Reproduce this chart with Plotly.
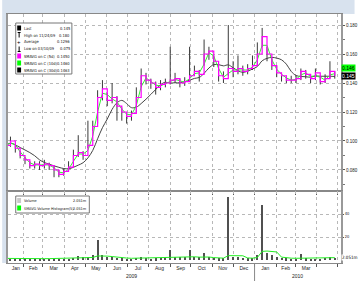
import pandas as pd
import plotly.graph_objects as go
from plotly.subplots import make_subplots

# ---------------- data ----------------
week_start = "2009-01-06"
close = [
    0.097, 0.100, 0.095, 0.090, 0.087, 0.083, 0.084, 0.083, 0.084, 0.083,
    0.080, 0.077, 0.079, 0.082, 0.090, 0.092, 0.090, 0.097, 0.110, 0.130,
    0.136, 0.128, 0.130, 0.124, 0.120, 0.117, 0.119, 0.130, 0.145, 0.142,
    0.140, 0.137, 0.139, 0.140, 0.142, 0.143, 0.140, 0.141, 0.145, 0.148,
    0.146, 0.160, 0.162, 0.155, 0.145, 0.143, 0.150, 0.148, 0.150, 0.148,
    0.150, 0.152, 0.160, 0.172, 0.160, 0.152, 0.147, 0.145, 0.142, 0.142,
    0.143, 0.148, 0.146, 0.143, 0.147, 0.141, 0.143, 0.148, 0.145]
high = [
    0.099, 0.103, 0.098, 0.093, 0.089, 0.086, 0.086, 0.086, 0.087, 0.085,
    0.083, 0.080, 0.081, 0.086, 0.094, 0.104, 0.093, 0.114, 0.114, 0.135,
    0.142, 0.133, 0.140, 0.131, 0.123, 0.120, 0.121, 0.137, 0.150, 0.147,
    0.143, 0.141, 0.142, 0.143, 0.165, 0.147, 0.143, 0.144, 0.165, 0.152,
    0.149, 0.170, 0.165, 0.159, 0.150, 0.148, 0.180, 0.155, 0.159, 0.152,
    0.153, 0.159, 0.168, 0.178, 0.165, 0.157, 0.152, 0.147, 0.145, 0.145,
    0.145, 0.150, 0.149, 0.146, 0.150, 0.145, 0.146, 0.155, 0.148]
low = [
    0.094, 0.096, 0.092, 0.088, 0.084, 0.081, 0.081, 0.080, 0.081, 0.080,
    0.075, 0.075, 0.076, 0.080, 0.086, 0.089, 0.087, 0.095, 0.107, 0.112,
    0.128, 0.124, 0.126, 0.114, 0.114, 0.112, 0.114, 0.120, 0.137, 0.139,
    0.136, 0.132, 0.135, 0.137, 0.139, 0.140, 0.137, 0.138, 0.142, 0.145,
    0.141, 0.152, 0.156, 0.151, 0.141, 0.140, 0.145, 0.144, 0.146, 0.145,
    0.146, 0.149, 0.152, 0.165, 0.155, 0.149, 0.144, 0.141, 0.140, 0.140,
    0.140, 0.142, 0.143, 0.140, 0.142, 0.139, 0.140, 0.143, 0.143]
volume = [
    1.0, 0.8, 0.6, 0.7, 0.5, 0.6, 0.8, 0.5, 0.7, 0.6, 0.9, 0.8, 1.0, 1.2,
    2.0, 3.5, 2.5, 3.0, 4.0, 17.0, 4.0, 3.0, 2.5, 2.0, 1.5, 1.2, 1.0,
    2.0, 2.5, 1.5, 1.2, 1.5, 2.0, 2.5,
    9.0, 3.0, 2.5, 3.0, 9.0, 3.0, 2.5,
    6.0, 3.0, 2.0, 1.5, 1.5,
    55.0, 3.0, 2.5, 2.0, 1.5, 1.5,
    4.0, 48.0, 6.0, 4.0, 3.0, 2.0,
    1.5, 1.0, 1.2, 5.0, 1.5, 1.0, 1.2, 1.0, 2.0, 3.0, 2.051]
volume_ma = [
    1.4, 1.3, 1.3, 1.2, 1.2, 1.2, 1.2, 1.2, 1.2, 1.2, 1.3, 1.3, 1.3, 1.4,
    1.6, 1.8, 2.0, 2.0, 2.2,
    3.5, 3.6, 3.4, 3.0, 2.4, 2.0, 1.7, 1.5,
    1.6, 1.8, 1.7, 1.6, 1.7, 1.8, 2.0,
    2.6, 2.6, 2.4, 2.5, 2.8, 2.8, 2.5,
    2.8, 2.6, 2.1, 1.8, 1.6,
    3.8, 3.9, 3.8, 3.7, 1.8, 1.6,
    2.2, 7.5, 7.8, 7.6, 7.0, 2.5,
    1.8, 1.6, 1.5, 1.6, 1.6, 1.4, 1.4, 1.4, 1.6, 1.9, 2.051]

month_labels = ["Jan", "Feb", "Mar", "Apr", "May", "Jun", "Jul", "Aug",
                "Sep", "Oct", "Nov", "Dec", "Jan", "Feb", "Mar"]
year_labels = ["2009", "2010"]
price_ticks = [0.08, 0.10, 0.12, 0.14, 0.16, 0.18]
volume_ticks = [20, 40]

legend_names = ["Last", "High on 11/24/09", "Average", "Low on 03/10/09",
                "SMAVG on C (5d)", "SMAVG on C (10d)", "SMAVG on C (30d)"]
legend_values = ["0.145", "0.180", "0.1296", "0.075", "0.1450", "0.1460", "0.1463"]
vol_legend_names = ["Volume", "SMAVG Volume Histogram(5)"]
vol_legend_values = ["2.051m", "2.051m"]

# ---------------- derived ----------------
dates = pd.date_range(week_start, periods=len(close), freq="7D")
s = pd.Series(close)
ma_mid = s.rolling(2, min_periods=1).mean()
ma_slow = s.rolling(6, min_periods=1).mean()

hl_x, hl_y = [], []
for d, lo, hi in zip(dates, low, high):
    hl_x += [d, d, None]
    hl_y += [lo, hi, None]

x0 = pd.Timestamp("2009-01-09 10:00")
x1 = pd.Timestamp("2010-05-06")
mstarts = pd.date_range("2009-01-01", periods=len(month_labels) + 1, freq="MS")
label_pos = []
for i in range(len(month_labels)):
    a = max(mstarts[i], x0)
    b = min(mstarts[i + 1], x1)
    label_pos.append(a + (b - a) / 2)
ybound = pd.Timestamp("2010-01-01")
year_pos = [x0 + (ybound - x0) / 2, ybound + (x1 - ybound) / 2]

# ---------------- figure ----------------
L, R, T, B = 6, 350, 14, 263
W, H = R - L, B - T
FW, FH = 364, 281


def px(v):
    return (v - L) / W


def py(v):
    return (B - v) / H


FONT = "Liberation Sans, Arial, sans-serif"
NARROW = "DejaVu Sans Condensed, Liberation Sans Narrow, Liberation Sans, sans-serif"
fig = make_subplots(rows=2, cols=1, shared_xaxes=True, vertical_spacing=0,
                    row_heights=[177, 72])

fig.add_trace(go.Scatter(x=hl_x, y=hl_y, mode="lines",
                         line=dict(color="#3a3a3a", width=1)), row=1, col=1)
fig.add_trace(go.Scatter(x=dates, y=ma_slow, mode="lines", line_shape="spline",
                         line=dict(color="#444444", width=1)), row=1, col=1)
fig.add_trace(go.Scatter(x=dates, y=ma_mid, mode="lines",
                         line=dict(color="#33ee33", width=1)), row=1, col=1)
fig.add_trace(go.Scatter(x=dates, y=close, mode="lines", line_shape="hv",
                         line=dict(color="#ff00ff", width=1.2)), row=1, col=1)

fig.add_trace(go.Bar(x=dates, y=volume, width=1.5 * 86400000,
                     marker=dict(color="#505050", line=dict(width=0))), row=2, col=1)
fig.add_trace(go.Scatter(x=dates, y=volume_ma, mode="lines",
                         line=dict(color="#22ee22", width=1)), row=2, col=1)

grid = dict(showgrid=True, gridcolor="#b8b8b8", griddash="dot", gridwidth=1)

fig.update_xaxes(range=[x0, x1], showline=True, linecolor="#888888", linewidth=1,
                 mirror=True, tickmode="array", tickvals=label_pos,
                 ticktext=month_labels, ticks="", showgrid=False,
                 ticklabeloverflow="allow",
                 tickfont=dict(size=5, color="#222", family=FONT),
                 minor=dict(tickmode="linear", tick0="2009-01-01", dtick="M1",
                            ticks="outside", ticklen=3, tickcolor="#555",
                            showgrid=True, gridcolor="#b8b8b8", griddash="dot"))
fig.update_xaxes(showticklabels=False, row=1, col=1)

fig.update_yaxes(side="right", range=[0.0655, 0.1876], tickvals=price_ticks,
                 tickformat=".3f", ticks="outside", ticklen=2, tickcolor="#555",
                 showline=True, linecolor="#999999", linewidth=2, mirror=True,
                 ticklabeloverflow="allow",
                 tickfont=dict(size=4.5, color="#222", family=FONT),
                 minor=dict(dtick=0.01, ticks="outside", ticklen=2, tickcolor="#777"),
                 zeroline=False, **grid, row=1, col=1)
fig.update_yaxes(side="right", range=[-2.6, 60], tickvals=volume_ticks,
                 ticksuffix="m", ticks="outside", ticklen=1, tickcolor="#555",
                 showline=True, linecolor="#999999", linewidth=2, mirror=True,
                 ticklabeloverflow="allow",
                 tickfont=dict(size=4, color="#222", family=NARROW),
                 zeroline=False, **grid, row=2, col=1)

shapes = []
ann = []
# header band and left strip
shapes.append(dict(type="rect", xref="paper", yref="paper", x0=px(0), x1=px(FW),
                   y0=py(T), y1=py(0), fillcolor="#d8e2ee", line=dict(width=0),
                   layer="below"))
shapes.append(dict(type="rect", xref="paper", yref="paper", x0=px(0), x1=px(L - 1),
                   y0=py(B), y1=py(T), fillcolor="#d8e2ee", line=dict(width=0),
                   layer="below"))
# year separator
shapes.append(dict(type="line", xref="x2", yref="paper", x0=ybound, x1=ybound,
                   y0=py(B), y1=py(FH), line=dict(color="#888", width=1)))
for lbl, pos in zip(year_labels, year_pos):
    ann.append(dict(x=pos, xref="x2", y=py(276), yref="paper", text=lbl,
                    showarrow=False, font=dict(size=5, color="#222", family=FONT),
                    xanchor="center", yanchor="middle", borderpad=0))

# price legend box
shapes.append(dict(type="rect", xref="paper", yref="paper", x0=px(14), x1=px(72),
                   y0=py(74), y1=py(23), fillcolor="white",
                   line=dict(color="#777", width=1)))
row_y = [28, 35, 42, 49, 56, 63, 70]
swatch = ["black", None, None, None, "#ff00ff", "#00ff00", "black"]
for name, val, yy, col in zip(legend_names, legend_values, row_y, swatch):
    if col:
        shapes.append(dict(type="rect", xref="paper", yref="paper", x0=px(15.5),
                           x1=px(19.5), y0=py(yy + 2.5), y1=py(yy - 2.5),
                           fillcolor=col, line=dict(width=0)))
    ann.append(dict(x=px(21), y=py(yy), xref="paper", yref="paper", text=name,
                    showarrow=False, xanchor="left", yanchor="middle",
                    font=dict(size=4, color="#111", family=NARROW), borderpad=0))
    ann.append(dict(x=px(71), y=py(yy), xref="paper", yref="paper", text=val,
                    showarrow=False, xanchor="right", yanchor="middle",
                    font=dict(size=4, color="#111", family=NARROW), borderpad=0))
# marker glyphs for high / average / low rows
shapes.append(dict(type="line", xref="paper", yref="paper", x0=px(17.5), x1=px(17.5),
                   y0=py(37.5), y1=py(32.5), line=dict(color="black", width=1)))
shapes.append(dict(type="line", xref="paper", yref="paper", x0=px(16), x1=px(19),
                   y0=py(32.5), y1=py(32.5), line=dict(color="black", width=1)))
ann.append(dict(x=px(17.5), y=py(42), xref="paper", yref="paper", text="+",
                showarrow=False, font=dict(size=6, color="black", family=FONT),
                xanchor="center", yanchor="middle", borderpad=0))
shapes.append(dict(type="line", xref="paper", yref="paper", x0=px(17.5), x1=px(17.5),
                   y0=py(51.5), y1=py(46.5), line=dict(color="black", width=1)))
shapes.append(dict(type="line", xref="paper", yref="paper", x0=px(16), x1=px(19),
                   y0=py(51.5), y1=py(51.5), line=dict(color="black", width=1)))

# volume legend box
shapes.append(dict(type="rect", xref="paper", yref="paper", x0=px(14), x1=px(90),
                   y0=py(213), y1=py(196), fillcolor="white",
                   line=dict(color="#777", width=1)))
for name, val, yy, col in zip(vol_legend_names, vol_legend_values, [200.5, 208],
                              ["#c8c8c8", "#00ff00"]):
    shapes.append(dict(type="rect", xref="paper", yref="paper", x0=px(15.5),
                       x1=px(19.5), y0=py(yy + 2.5), y1=py(yy - 2.5),
                       fillcolor=col, line=dict(width=0)))
    ann.append(dict(x=px(21), y=py(yy), xref="paper", yref="paper", text=name,
                    showarrow=False, xanchor="left", yanchor="middle",
                    font=dict(size=3.8, color="#111", family=NARROW), borderpad=0))
    ann.append(dict(x=px(89), y=py(yy), xref="paper", yref="paper", text=val,
                    showarrow=False, xanchor="right", yanchor="middle",
                    font=dict(size=3.8, color="#111", family=NARROW), borderpad=0))

# last value tags on the right axis
ann.append(dict(x=1, xref="paper", y=float(legend_values[5]), yref="y", yshift=6,
                text="0.146", showarrow=False, xanchor="left", yanchor="middle",
                bgcolor="#00ff00", font=dict(size=5, color="black", family=FONT),
                borderpad=0))
ann.append(dict(x=1, xref="paper", y=close[-1], yref="y", text=legend_values[0],
                showarrow=False, xanchor="left", yanchor="middle", bgcolor="black",
                font=dict(size=5, color="white", family=FONT), borderpad=0))
ann.append(dict(x=1, xref="paper", y=volume[-1], yref="y2", text=vol_legend_values[0],
                showarrow=False, xanchor="left", yanchor="middle", bgcolor="white",
                font=dict(size=4.5, color="black", family=NARROW), borderpad=0))

fig.update_layout(width=FW, height=FH, margin=dict(l=L, r=FW - R, t=T, b=FH - B),
                  paper_bgcolor="white", plot_bgcolor="white", showlegend=False,
                  bargap=0, shapes=shapes, annotations=ann)

fig.write_html("out.html", config={"displayModeBar": False},
               post_script="document.body.style.margin='0';"
                           "document.body.style.overflow='hidden';")
